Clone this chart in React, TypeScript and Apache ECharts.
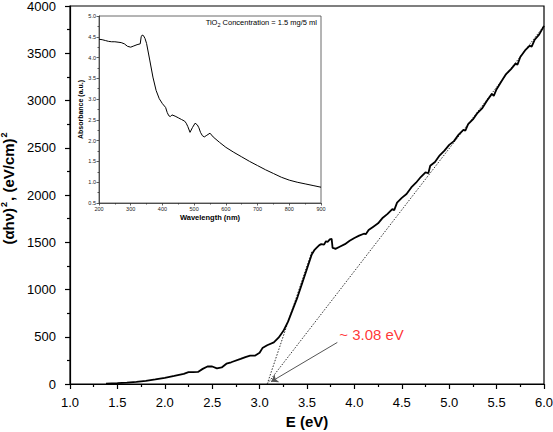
import React, { useEffect, useRef } from "react";
import * as echarts from "echarts";

// Main Tauc plot: photon energy (eV) and (αhν)^2 values
const energy = [1.38, 1.5, 1.6, 1.7, 1.8, 1.9, 2.0, 2.1, 2.2, 2.25, 2.3, 2.35, 2.4, 2.45, 2.5, 2.55, 2.6, 2.65, 2.7, 2.8, 2.85, 2.9, 2.95, 3.0, 3.03, 3.08, 3.15, 3.2, 3.25, 3.3, 3.35, 3.4, 3.45, 3.5, 3.55, 3.58, 3.6, 3.63, 3.65, 3.68, 3.7, 3.72, 3.74, 3.76, 3.77, 3.79, 3.8, 3.85, 3.9, 3.95, 4.0, 4.05, 4.1, 4.12, 4.15, 4.2, 4.25, 4.3, 4.35, 4.4, 4.42, 4.45, 4.5, 4.55, 4.6, 4.65, 4.7, 4.75, 4.78, 4.8, 4.85, 4.9, 4.95, 5.0, 5.05, 5.1, 5.15, 5.17, 5.2, 5.25, 5.3, 5.35, 5.4, 5.45, 5.47, 5.5, 5.55, 5.6, 5.65, 5.7, 5.72, 5.75, 5.8, 5.85, 5.87, 5.9, 5.95, 6.0];
const tauc = [5, 10, 15, 22, 32, 48, 65, 85, 108, 125, 125, 128, 160, 185, 185, 165, 175, 215, 230, 265, 285, 300, 300, 330, 380, 410, 440, 490, 560, 660, 790, 920, 1070, 1220, 1370, 1420, 1440, 1470, 1480, 1475, 1510, 1505, 1530, 1535, 1440, 1435, 1430, 1455, 1480, 1515, 1545, 1570, 1590, 1585, 1630, 1665, 1700, 1760, 1800, 1850, 1840, 1920, 1970, 2010, 2080, 2130, 2190, 2240, 2230, 2310, 2350, 2420, 2470, 2530, 2570, 2640, 2690, 2680, 2750, 2800, 2870, 2920, 3000, 3070, 3050, 3120, 3200, 3280, 3330, 3390, 3380, 3460, 3530, 3580, 3570, 3640, 3700, 3790];

// Tangent (extrapolation) lines meeting the energy axis near 3.08 eV
const tangentSteep = [[3.08, 0], [3.55, 1400]];
const tangentLong = [[3.08, 0], [6.0, 3790]];
const arrowCoords = [[3.82, 440], [3.12, 24]];
const gapLabelPos = [3.84, 520];
const gapLabel = "~ 3.08 eV";

// Inset: UV-Vis absorbance spectrum
const wavelength = [200, 210, 220, 230, 240, 250, 260, 270, 280, 290, 300, 310, 320, 330, 333, 336, 340, 345, 350, 360, 370, 380, 390, 400, 410, 415, 420, 425, 430, 440, 450, 460, 470, 475, 480, 487, 495, 503, 510, 515, 520, 526, 532, 540, 550, 560, 580, 600, 625, 650, 675, 700, 725, 750, 775, 800, 825, 850, 875, 900];
const absorbance = [4.44, 4.43, 4.41, 4.39, 4.38, 4.38, 4.37, 4.36, 4.33, 4.27, 4.25, 4.28, 4.31, 4.33, 4.5, 4.54, 4.53, 4.46, 4.34, 3.94, 3.53, 3.21, 3.01, 2.89, 2.8, 2.68, 2.6, 2.58, 2.62, 2.59, 2.55, 2.51, 2.47, 2.42, 2.34, 2.2, 2.32, 2.42, 2.38, 2.31, 2.2, 2.12, 2.09, 2.13, 2.18, 2.09, 1.96, 1.84, 1.72, 1.61, 1.5, 1.4, 1.3, 1.21, 1.12, 1.05, 1.0, 0.96, 0.92, 0.88];

const FONT = 'Arial, "Liberation Sans", sans-serif';

export default function App() {
  const ref = useRef<HTMLDivElement>(null);
  useEffect(() => {
    if (!ref.current) return;
    const chart = echarts.init(ref.current, null, { renderer: "svg" });
    const mainLine = energy.map((e, i) => [e, tauc[i]]);
    const insetLine = wavelength.map((w, i) => [w, absorbance[i]]);
    chart.setOption({
      animation: false,
      backgroundColor: "#fff",
      grid: [
        {
          left: 70, right: 9, top: 6, bottom: 48,
          show: true, borderColor: "#000", borderWidth: 1.2,
          outerBoundsMode: "none",
        },
        {
          left: 99, right: 232, top: 16, bottom: 229,
          show: true, borderColor: "#444", borderWidth: 0.8,
          outerBoundsMode: "none",
        },
      ],
      xAxis: [
        {
          gridIndex: 0, type: "value", min: 1, max: 6, interval: 0.5,
          axisLine: { lineStyle: { color: "#000", width: 1.2 } },
          axisTick: { length: 5, lineStyle: { color: "#000", width: 1.2 } },
          minorTick: { show: true, splitNumber: 2, length: 3, lineStyle: { color: "#000", width: 1.2 } },
          splitLine: { show: false },
          axisLabel: { color: "#000", fontSize: 13, fontFamily: FONT, margin: 12, formatter: (v: number) => v.toFixed(1) },
          name: "E (eV)", nameLocation: "middle", nameGap: 28,
          nameTextStyle: { color: "#000", fontSize: 15, fontWeight: "bold", fontFamily: FONT },
        },
        {
          gridIndex: 1, type: "value", min: 200, max: 900, interval: 100,
          axisLine: { lineStyle: { color: "#333", width: 0.8 } },
          axisTick: { length: 2.5, lineStyle: { color: "#333", width: 0.8 } },
          minorTick: { show: true, splitNumber: 2, length: 1.5, lineStyle: { color: "#333", width: 0.8 } },
          splitLine: { show: false },
          axisLabel: { color: "#222", fontSize: 5.5, fontFamily: FONT, margin: 3 },
          name: "Wavelength (nm)", nameLocation: "middle", nameGap: 10,
          nameTextStyle: { color: "#000", fontSize: 7.5, fontWeight: "bold", fontFamily: FONT },
        },
      ],
      yAxis: [
        {
          gridIndex: 0, type: "value", min: 0, max: 4000, interval: 500,
          axisLine: { show: true, lineStyle: { color: "#000", width: 1.2 } },
          axisTick: { show: true, length: 5, lineStyle: { color: "#000", width: 1.2 } },
          minorTick: { show: true, splitNumber: 2, length: 3, lineStyle: { color: "#000", width: 1.2 } },
          splitLine: { show: false },
          axisLabel: { color: "#000", fontSize: 13, fontFamily: FONT, margin: 14, formatter: (v: number) => String(v) },
          name: "{a|(αhν)}{s|2}{a|, (eV/cm)}{s|2}", nameLocation: "middle", nameGap: 40, nameRotate: 90,
          nameTextStyle: {
            color: "#000", fontSize: 15, fontWeight: "bold", fontFamily: FONT, padding: [0, 0, 0, 14],
            rich: {
              a: { color: "#000", fontSize: 15, fontWeight: "bold", fontFamily: FONT, lineHeight: 18 },
              s: { color: "#000", fontSize: 9, fontWeight: "bold", fontFamily: FONT, lineHeight: 18, verticalAlign: "top", padding: [0, 1, 7, 1] },
            },
          },
        },
        {
          gridIndex: 1, type: "value", min: 0.5, max: 5.0, interval: 0.5,
          axisLine: { show: true, lineStyle: { color: "#333", width: 0.8 } },
          axisTick: { show: true, length: 2.5, lineStyle: { color: "#333", width: 0.8 } },
          minorTick: { show: true, splitNumber: 2, length: 1.5, lineStyle: { color: "#333", width: 0.8 } },
          splitLine: { show: false },
          axisLabel: { color: "#222", fontSize: 5.5, fontFamily: FONT, margin: 3, formatter: (v: number) => v.toFixed(1) },
          name: "Absorbance (a.u.)", nameLocation: "middle", nameGap: 15, nameRotate: 90,
          nameTextStyle: { color: "#000", fontSize: 7, fontWeight: "bold", fontFamily: FONT },
        },
      ],
      series: [
        {
          type: "line", xAxisIndex: 0, yAxisIndex: 0, data: tangentLong,
          symbol: "none", lineStyle: { color: "#333", width: 1, type: [1.5, 1.5] }, silent: true,
        },
        {
          type: "line", xAxisIndex: 0, yAxisIndex: 0, data: tangentSteep,
          symbol: "none", lineStyle: { color: "#333", width: 1, type: [1.5, 1.5] }, silent: true,
        },
        {
          type: "line", xAxisIndex: 0, yAxisIndex: 0, data: mainLine,
          symbol: "none", lineStyle: { color: "#000", width: 1.8 }, silent: true,
        },
        {
          type: "lines", coordinateSystem: "cartesian2d", xAxisIndex: 0, yAxisIndex: 0,
          symbol: ["none", "arrow"], symbolSize: 7,
          lineStyle: { color: "#555", width: 1, opacity: 1 },
          data: [{ coords: arrowCoords }], silent: true,
        },
        {
          type: "scatter", xAxisIndex: 0, yAxisIndex: 0, data: [gapLabelPos], symbolSize: 0,
          label: {
            show: true, position: "right", distance: 0, formatter: gapLabel,
            color: "#ff0000", fontSize: 15, fontFamily: FONT,
          },
          silent: true,
        },
        {
          type: "line", xAxisIndex: 1, yAxisIndex: 1, data: insetLine,
          symbol: "none", lineStyle: { color: "#000", width: 1 }, silent: true,
        },
      ],
      graphic: [
        {
          type: "text", right: 553 - 317, top: 18,
          style: {
            text: "{a|TiO}{s|2}{a| Concentration = 1.5 mg/5 ml}",
            rich: {
              a: { fontSize: 7.5, fontFamily: FONT, fill: "#000", lineHeight: 10, verticalAlign: "top" },
              s: { fontSize: 5.5, fontFamily: FONT, fill: "#000", lineHeight: 10, verticalAlign: "bottom" },
            },
          },
        },
      ],
    });
    return () => chart.dispose();
  }, []);
  return <div ref={ref} style={{ position: "absolute", left: 0, top: 0, width: 553, height: 432 }} />;
}
